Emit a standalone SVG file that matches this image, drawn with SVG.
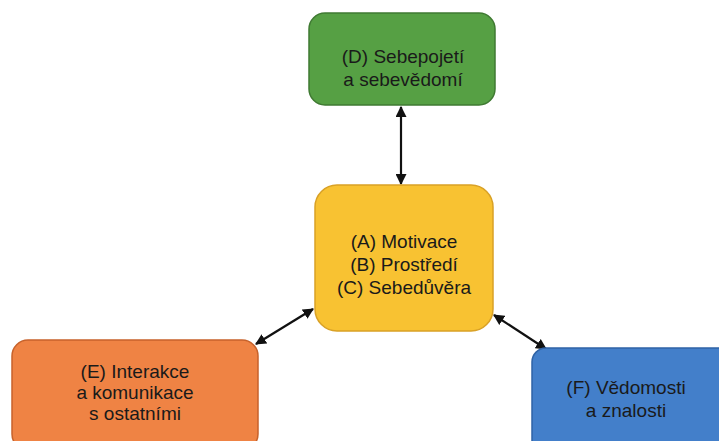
<svg xmlns="http://www.w3.org/2000/svg" width="719" height="441" viewBox="0 0 719 441">
<defs>
<marker id="ah" viewBox="0 0 10 10" refX="9" refY="5" markerWidth="5" markerHeight="5" orient="auto-start-reverse" markerUnits="strokeWidth">
<path d="M0,0 L10,5 L0,10 z" fill="#111"/>
</marker>
<style>
.t{font-family:"Liberation Sans",Arial,sans-serif;font-size:19px;fill:#1a1a1a;text-anchor:middle}
.c{stroke:#111;stroke-width:2.2;fill:none;marker-start:url(#ah);marker-end:url(#ah)}
</style>
</defs>
<rect width="719" height="441" fill="#ffffff"/>
<g id="connectors">
<line class="c" x1="401" y1="107" x2="401" y2="184"/>
<line class="c" x1="256" y1="344" x2="313" y2="309"/>
<line class="c" x1="494" y1="315" x2="546" y2="349"/>
</g>
<g id="nodeD">
<rect x="309" y="13" width="186" height="92" rx="16" fill="#56a044" stroke="#3f7a32" stroke-width="1.5"/>
<text class="t" x="403" y="63">(D) Sebepojetí</text>
<text class="t" x="403" y="86">a sebevědomí</text>
</g>
<g id="nodeA">
<rect x="315" y="185" width="178" height="146" rx="22" fill="#f8c232" stroke="#d9a126" stroke-width="1.5"/>
<text class="t" x="404" y="248">(A) Motivace</text>
<text class="t" x="404" y="271">(B) Prostředí</text>
<text class="t" x="404" y="294">(C) Sebedůvěra</text>
</g>
<g id="nodeE">
<rect x="12" y="340" width="246" height="110" rx="16" fill="#ef8344" stroke="#c7622b" stroke-width="1.5"/>
<text class="t" x="135" y="378">(E) Interakce</text>
<text class="t" x="135" y="399">a komunikace</text>
<text class="t" x="135" y="420">s ostatními</text>
</g>
<g id="nodeF">
<rect x="532" y="348" width="200" height="110" rx="14" fill="#437fca" stroke="#2f63a6" stroke-width="1.5"/>
<text class="t" x="626" y="394">(F) Vědomosti</text>
<text class="t" x="626" y="417">a znalosti</text>
</g>
</svg>
